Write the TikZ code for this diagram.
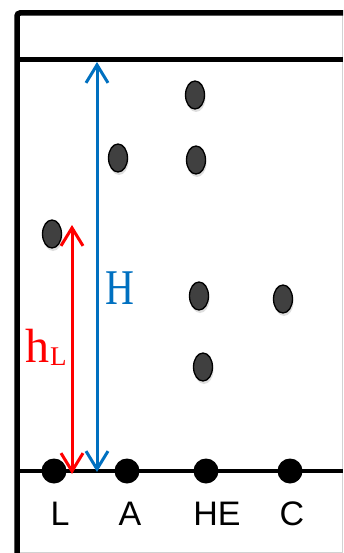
\documentclass[tikz,border=0pt]{standalone}
\usepackage{fontspec}
\setmainfont{Liberation Serif}
\setsansfont{Liberation Sans}
\usetikzlibrary{arrows.meta,shadows,shapes.geometric}
\definecolor{spotgray}{HTML}{404040}
\definecolor{hblue}{HTML}{0070C0}
\definecolor{hred}{HTML}{FF0000}
\tikzset{
  spot/.style={ellipse, draw=black, line width=1.3pt, fill=spotgray, minimum width=19pt, minimum height=28pt, inner sep=0pt,
    drop shadow={opacity=0.25, shadow xshift=1pt, shadow yshift=-3pt}},
  basedot/.style={circle, fill=black, minimum size=25pt, inner sep=0pt},
  lanelabel/.style={font=\sffamily\fontsize{34}{36}\selectfont, inner sep=0pt},
  frameline/.style={line width=5.5pt, black},
  measure/.style={line width=3pt, {Straight Barb[length=18pt,width=22pt]}-{Straight Barb[length=18pt,width=22pt]}},
}
\begin{document}
\begin{tikzpicture}[x=1pt,y=-1pt]
\useasboundingbox (0,0) rectangle (343,553);
% faint page edges
\draw[gray!35, line width=1pt] (20,552) -- (343,552);
\draw[gray!35, line width=1pt] (342,13) -- (342,553);
% frame
\draw[frameline, rounded corners=3pt] (17,553) -- (17,13) -- (343,13);
\coordinate (frontL) at (17,60);
\coordinate (frontR) at (343,60);
\coordinate (baseL) at (17,471);
\coordinate (baseR) at (343,471);
\draw[frameline, line width=5pt] (frontL) -- (frontR);
\draw[line width=4pt, black] (baseL) -- (baseR);
% baseline dots
\node[basedot] (dL) at (54,471) {};
\node[basedot] (dA) at (127,471) {};
\node[basedot] (dHE) at (206,471) {};
\node[basedot] (dC) at (290,471) {};
% lane labels
\node[lanelabel] (lL) at (60,513.5) {L};
\node[lanelabel] (lA) at (130,513.5) {A};
\node[lanelabel] (lHE) at (217,513.5) {HE};
\node[lanelabel] (lC) at (292,513.5) {C};
% spots
\node[spot] (sL) at (52,234) {};
\node[spot] (sA) at (118,158) {};
\node[spot] (sHE1) at (195,95) {};
\node[spot] (sHE2) at (196,160) {};
\node[spot] (sHE3) at (199,296) {};
\node[spot] (sHE4) at (203,367) {};
\node[spot] (sC) at (283,299) {};
% measurement arrows
\coordinate (rbot) at (72,474);
\coordinate (rtop) at (72,225);
\coordinate (bbot) at (97,472);
\coordinate (btop) at (97,62);
\draw[measure, hred] (rbot) -- (rtop);
\draw[measure, hblue] (bbot) -- (btop);
\node[text=hblue, font=\fontsize{50}{54}\selectfont, inner sep=0pt, xscale=0.8] (Hlab) at (119.5,288.5) {H};
\node[text=hred, font=\fontsize{48}{50}\selectfont, inner sep=0pt, anchor=base west] (hlab) at (25,362) {h\hspace{1pt}\raisebox{-3pt}{\fontsize{27}{30}\selectfont L}};
\end{tikzpicture}
\end{document}
